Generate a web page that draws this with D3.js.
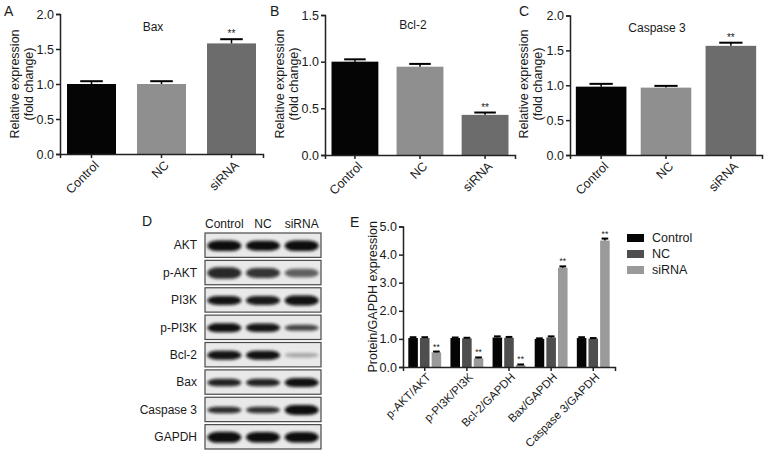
<!DOCTYPE html>
<html>
<head>
<meta charset="utf-8">
<script src="https://cdn.jsdelivr.net/npm/d3@7"></script>
<style>
  html, body { margin: 0; padding: 0; background: #fff; }
  svg { display: block; }
  text { font-family: "Liberation Sans", Arial, sans-serif; fill: #1a1a1a; }
</style>
</head>
<body>
<svg id="chart" width="765" height="451"></svg>
<script>
// ---------------- DATA ----------------
const groups = ["Control", "NC", "siRNA"];
const groupColors = ["#050505", "#8f8f8f", "#6c6c6c"];

const baxMean = [1.00, 1.00, 1.58];
const baxErr = [0.04, 0.04, 0.06];
const bcl2Mean = [1.00, 0.946, 0.43];
const bcl2Err = [0.025, 0.03, 0.025];
const casp3Mean = [0.98, 0.966, 1.565];
const casp3Err = [0.04, 0.025, 0.045];
const sigMarks = ["", "", "**"];

const ratioLabels = ["p-AKT/AKT", "p-PI3K/PI3K", "Bcl-2/GAPDH", "Bax/GAPDH", "Caspase 3/GAPDH"];
const eControl = [1.03, 1.03, 1.05, 1.00, 1.03];
const eControlErr = [0.03, 0.02, 0.04, 0.02, 0.03];
const eNC = [1.03, 1.02, 1.04, 1.05, 1.01];
const eNCErr = [0.03, 0.02, 0.03, 0.04, 0.02];
const eSiRNA = [0.52, 0.31, 0.07, 3.53, 4.50];
const eSiRNAErr = [0.03, 0.03, 0.02, 0.05, 0.07];
const eSig = ["**", "**", "**", "**", "**"];
const eColors = ["#050505", "#4e4e4e", "#9a9a9a"];

const blotProteins = ["AKT", "p-AKT", "PI3K", "p-PI3K", "Bcl-2", "Bax", "Caspase 3", "GAPDH"];
// relative band darkness per lane (Control, NC, siRNA)
const bandIntensity = [
  [1.00, 1.00, 1.00],
  [0.88, 0.82, 0.62],
  [0.97, 0.94, 0.98],
  [0.98, 0.96, 0.75],
  [0.97, 0.98, 0.30],
  [0.90, 0.90, 0.98],
  [0.86, 0.84, 1.00],
  [1.00, 1.00, 1.00]
];
// relative band thickness per lane
const bandThickness = [
  [1.05, 1.00, 1.05],
  [1.15, 1.00, 0.85],
  [0.90, 0.90, 1.00],
  [0.90, 0.85, 0.60],
  [0.90, 0.90, 0.45],
  [0.75, 0.75, 0.90],
  [0.65, 0.65, 1.00],
  [1.10, 1.05, 1.05]
];

// ---------------- HELPERS ----------------
const svg = d3.select("#chart");
const FONT = 12;

function panelLetter(x, y, t) {
  svg.append("text").attr("x", x).attr("y", y).attr("font-size", 14).text(t);
}

function barPanel(opt) {
  const g = svg.append("g");
  const x = d3.scaleBand().domain(groups).range(opt.xRange)
    .paddingInner(opt.padIn).paddingOuter(opt.padOut);
  const y = d3.scaleLinear().domain([0, opt.yMax]).range(opt.yRange);

  g.selectAll("rect.bar").data(groups).enter().append("rect")
    .attr("x", d => x(d)).attr("width", x.bandwidth())
    .attr("y", (d, i) => y(opt.mean[i]))
    .attr("height", (d, i) => y(0) - y(opt.mean[i]))
    .attr("fill", (d, i) => groupColors[i]);

  const capW = x.bandwidth() * 0.46;
  groups.forEach((d, i) => {
    const cx = x(d) + x.bandwidth() / 2;
    g.append("line").attr("x1", cx).attr("x2", cx)
      .attr("y1", y(opt.mean[i])).attr("y2", y(opt.mean[i] + opt.err[i]))
      .attr("stroke", "#000").attr("stroke-width", 1.5);
    g.append("line").attr("x1", cx - capW / 2).attr("x2", cx + capW / 2)
      .attr("y1", y(opt.mean[i] + opt.err[i])).attr("y2", y(opt.mean[i] + opt.err[i]))
      .attr("stroke", "#000").attr("stroke-width", 2);
    if (sigMarks[i]) {
      g.append("text").attr("x", cx).attr("y", y(opt.mean[i] + opt.err[i]) - 2)
        .attr("text-anchor", "middle").attr("font-size", 10).text(sigMarks[i]);
    }
  });

  const ya = g.append("g").attr("transform", `translate(${opt.xRange[0]},0)`)
    .call(d3.axisLeft(y).tickValues(d3.range(0, opt.yMax + 1e-9, 0.5))
      .tickFormat(d3.format(".1f")).tickSize(4).tickPadding(2));
  ya.select(".domain").attr("stroke", "#222").attr("stroke-width", 1.5);
  ya.selectAll(".tick line").attr("stroke", "#222").attr("stroke-width", 1.5);
  ya.selectAll("text").attr("font-size", 12.5).attr("fill", "#1a1a1a")
    .style("font-family", '"Liberation Sans", Arial, sans-serif');

  const xa = g.append("g").attr("transform", `translate(0,${y(0)})`)
    .call(d3.axisBottom(x).tickSizeOuter(0).tickSize(4).tickFormat(""));
  xa.select(".domain").attr("stroke", "#222").attr("stroke-width", 1.5);
  xa.selectAll(".tick line").attr("stroke", "#222").attr("stroke-width", 1.5);
  groups.forEach(d => {
    const cx = x(d) + x.bandwidth() / 2;
    g.append("text")
      .attr("transform", `translate(${cx + 5},${y(0) + 9}) rotate(-45)`)
      .attr("text-anchor", "end").attr("dy", "0.35em").attr("font-size", 12.5).text(d);
  });

  const lg = g.append("text").attr("text-anchor", "middle").attr("font-size", 12.5)
    .attr("transform", `translate(${opt.labelX},${opt.labelY}) rotate(-90)`);
  lg.append("tspan").attr("x", 0).attr("dy", 0).text("Relative expression");
  lg.append("tspan").attr("x", 0).attr("dy", "1.15em").text("(fold change)");

  g.append("text").attr("x", opt.titleX).attr("y", opt.titleY)
    .attr("text-anchor", "middle").attr("font-size", FONT).text(opt.title);
}

// ---------------- PANELS A, B, C ----------------
panelLetter(4, 16, "A");
barPanel({ xRange: [60, 263], padIn: 0.3, padOut: 0.1, yMax: 2, yRange: [154, 14],
  mean: baxMean, err: baxErr, title: "Bax", titleX: 153, titleY: 31, labelX: 19, labelY: 84 });

panelLetter(270, 16, "B");
barPanel({ xRange: [325, 515], padIn: 0.28, padOut: 0.1, yMax: 1.5, yRange: [155, 15],
  mean: bcl2Mean, err: bcl2Err, title: "Bcl-2", titleX: 413, titleY: 29, labelX: 284, labelY: 84 });

panelLetter(519, 16, "C");
barPanel({ xRange: [570, 762], padIn: 0.22, padOut: 0.09, yMax: 2, yRange: [155, 15.5],
  mean: casp3Mean, err: casp3Err, title: "Caspase 3", titleX: 657, titleY: 32, labelX: 528, labelY: 84 });

// ---------------- PANEL D (western blot) ----------------
panelLetter(142, 226, "D");
const defs = svg.append("defs");
defs.append("filter").attr("id", "blur").attr("x", "-20%").attr("y", "-80%")
  .attr("width", "140%").attr("height", "260%")
  .append("feGaussianBlur").attr("stdDeviation", "1.6 1.4");

const laneX = d3.scaleBand().domain(groups).range([205, 321]).paddingInner(0.1).paddingOuter(0.05);
const rowY = d3.scaleBand().domain(blotProteins).range([233, 449]).paddingInner(0.11).paddingOuter(0);

groups.forEach(l => {
  svg.append("text").attr("x", laneX(l) + laneX.bandwidth() / 2).attr("y", 228)
    .attr("text-anchor", "middle").attr("font-size", FONT).text(l);
});

blotProteins.forEach((p, r) => {
  const top = rowY(p), h = rowY.bandwidth();
  const clipId = "clip" + r;
  defs.append("clipPath").attr("id", clipId).append("rect")
    .attr("x", 205).attr("y", top).attr("width", 116).attr("height", h);
  const bg = svg.append("g").attr("clip-path", `url(#${clipId})`);
  bg.append("rect").attr("x", 205).attr("y", top).attr("width", 116).attr("height", h).attr("fill", "#e9e9e9");
  groups.forEach((l, c) => {
    const bw = laneX.bandwidth() * 0.98;
    const th = 10 * bandThickness[r][c];
    const cx = laneX(l) + laneX.bandwidth() / 2;
    const cy = top + h / 2 + 0.5;
    bg.append("rect")
      .attr("x", cx - bw / 2).attr("y", cy - th / 2)
      .attr("width", bw).attr("height", th)
      .attr("rx", bw * 0.3).attr("ry", th / 2)
      .attr("fill", "#0a0a0a").attr("opacity", bandIntensity[r][c])
      .attr("filter", "url(#blur)");
  });
  svg.append("rect").attr("x", 205).attr("y", top).attr("width", 116).attr("height", h)
    .attr("fill", "none").attr("stroke", "#4a4a4a").attr("stroke-width", 1.2);
  svg.append("text").attr("x", 197).attr("y", top + h / 2).attr("dy", "0.35em")
    .attr("text-anchor", "end").attr("font-size", FONT).text(p);
});

// ---------------- PANEL E ----------------
panelLetter(350, 227, "E");
const eSeries = [
  { name: "Control", mean: eControl, err: eControlErr },
  { name: "NC", mean: eNC, err: eNCErr },
  { name: "siRNA", mean: eSiRNA, err: eSiRNAErr }
];
const x0 = d3.scaleBand().domain(ratioLabels).range([403, 615]).paddingInner(0.22).paddingOuter(0.126);
const x1 = d3.scaleBand().domain(groups).range([0, x0.bandwidth()]).paddingInner(0.18);
const yE = d3.scaleLinear().domain([0, 5]).range([367, 226.5]);
const gE = svg.append("g");

eSeries.forEach((s, si) => {
  ratioLabels.forEach((lab, i) => {
    const bx = x0(lab) + x1(s.name);
    const bw = x1.bandwidth();
    gE.append("rect").attr("x", bx).attr("width", bw)
      .attr("y", yE(s.mean[i])).attr("height", yE(0) - yE(s.mean[i]))
      .attr("fill", eColors[si]);
    const cx = bx + bw / 2;
    gE.append("line").attr("x1", cx).attr("x2", cx)
      .attr("y1", yE(s.mean[i])).attr("y2", yE(s.mean[i] + s.err[i]))
      .attr("stroke", "#000").attr("stroke-width", 1.5);
    gE.append("line").attr("x1", cx - bw * 0.35).attr("x2", cx + bw * 0.35)
      .attr("y1", yE(s.mean[i] + s.err[i])).attr("y2", yE(s.mean[i] + s.err[i]))
      .attr("stroke", "#000").attr("stroke-width", 2);
    if (si === 2 && eSig[i]) {
      gE.append("text").attr("x", cx).attr("y", yE(s.mean[i] + s.err[i]) - 2)
        .attr("text-anchor", "middle").attr("font-size", 8.5).text(eSig[i]);
    }
  });
});

const yaE = gE.append("g").attr("transform", "translate(403,0)")
  .call(d3.axisLeft(yE).tickValues([0, 1, 2, 3, 4, 5]).tickFormat(d3.format(".1f")).tickSize(4).tickPadding(2));
yaE.select(".domain").attr("stroke", "#222").attr("stroke-width", 1.5);
yaE.selectAll(".tick line").attr("stroke", "#222").attr("stroke-width", 1.5);
yaE.selectAll("text").attr("font-size", 12.5).attr("fill", "#1a1a1a")
  .style("font-family", '"Liberation Sans", Arial, sans-serif');

const xaE = gE.append("g").attr("transform", `translate(0,${yE(0)})`)
  .call(d3.axisBottom(x0).tickSizeOuter(0).tickSize(4).tickFormat(""));
xaE.select(".domain").attr("stroke", "#222").attr("stroke-width", 1.5);
xaE.selectAll(".tick line").attr("stroke", "#222").attr("stroke-width", 1.5);
ratioLabels.forEach(lab => {
  const cx = x0(lab) + x0.bandwidth() / 2;
  gE.append("text")
    .attr("transform", `translate(${cx + 4},${yE(0) + 8}) rotate(-45)`)
    .attr("text-anchor", "end").attr("dy", "0.35em").attr("font-size", 11.5).text(lab);
});

gE.append("text").attr("text-anchor", "middle").attr("font-size", 12.5)
  .attr("transform", `translate(377,${(yE(0) + yE(5)) / 2}) rotate(-90)`)
  .text("Protein/GAPDH expression");

// legend
const legY = d3.scaleBand().domain(groups).range([230, 278]);
groups.forEach((gname, i) => {
  const yy = legY(gname) + legY.bandwidth() / 2;
  svg.append("rect").attr("x", 627).attr("y", yy - 4).attr("width", 17).attr("height", 8)
    .attr("fill", eColors[i]);
  svg.append("text").attr("x", 652).attr("y", yy).attr("dy", "0.35em")
    .attr("font-size", 12.5).text(gname);
});
</script>
</body>
</html>
